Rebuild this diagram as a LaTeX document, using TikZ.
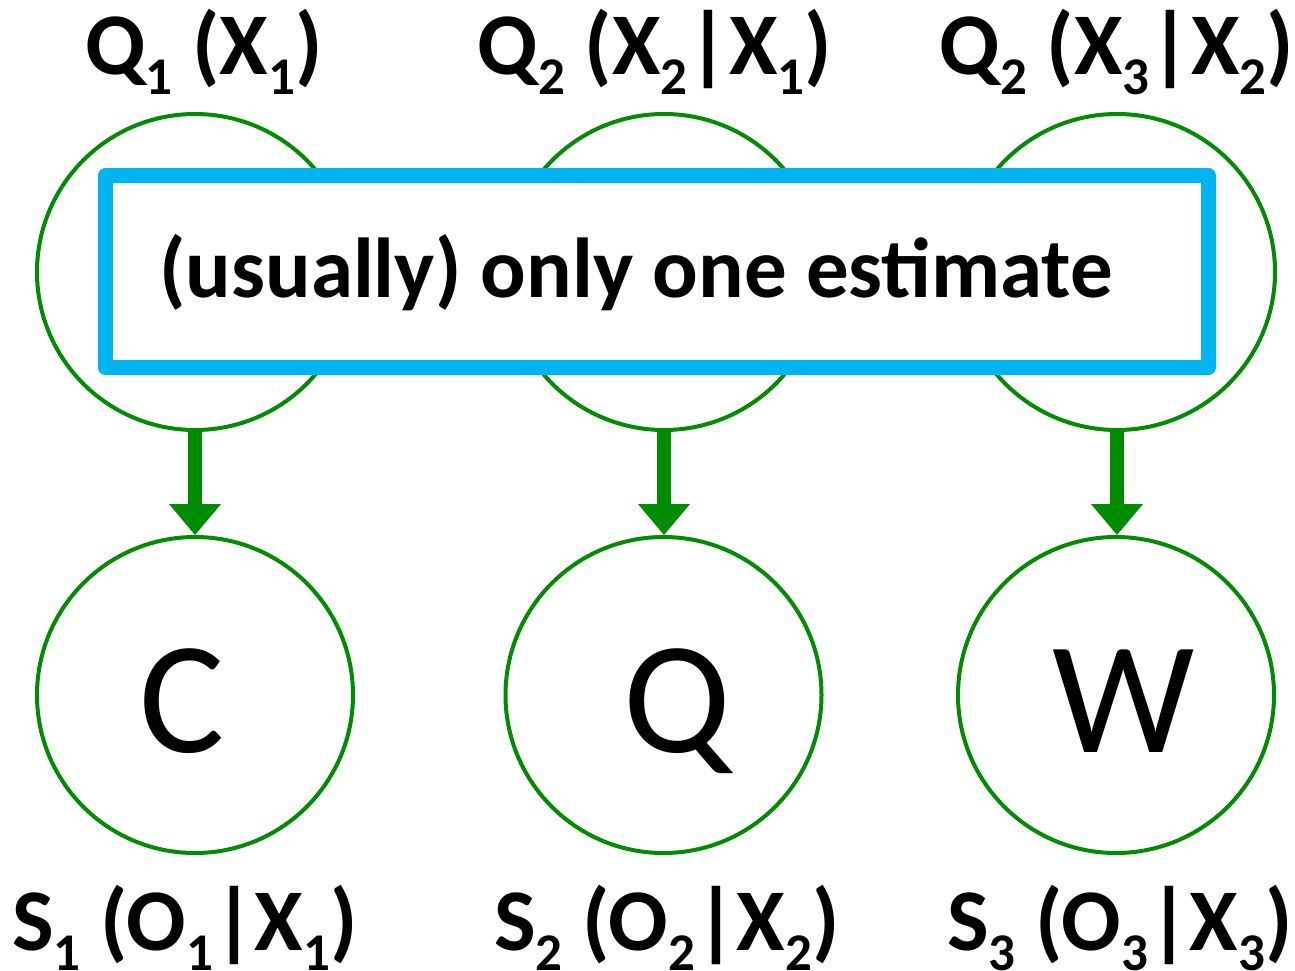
\documentclass[tikz,border=0pt]{standalone}
\usepackage{fontspec}
\setmainfont{Carlito}
\usetikzlibrary{arrows.meta}
\definecolor{gr}{RGB}{0,140,0}
\definecolor{lblue}{RGB}{0,180,240}
\newcommand{\sbx}[1]{\raisebox{-20pt}{\fontsize{53}{53}\selectfont #1}}
\tikzset{
  state/.style={circle, draw=gr, line width=4pt, fill=white, minimum size=316pt, inner sep=0pt},
  letter/.style={anchor=base, inner sep=0pt, font=\fontsize{160}{160}\selectfont},
  lbl/.style={anchor=base, inner sep=0pt, font=\bfseries\fontsize{88}{88}\selectfont},
  arr/.style={draw=gr, line width=14pt, -{Triangle[width=52pt,length=31pt,line width=0pt]}},
  estbox/.style={draw=lblue, line width=15pt, line join=round, fill=white, minimum width=1102.5pt, minimum height=192pt, inner sep=0pt},
  midtxt/.style={anchor=base, inner sep=0pt, font=\bfseries\fontsize{85}{85}\selectfont}
}
\begin{document}
\begin{tikzpicture}[x=1pt,y=-1pt]
\useasboundingbox (0,0) rectangle (1295,970);
% top circles
\node[state] (t1) at (195,272) {};
\node[state] (t2) at (664,272) {};
\node[state] (t3) at (1117,272) {};
% bottom circles
\node[state] (b1) at (195,695) {};
\node[state] (b2) at (663.5,695) {};
\node[state] (b3) at (1116,695) {};
% letters
\node[letter] (lc) at (182,752) {C};
\node[letter] (lq) at (677,752) {Q};
\node[letter] (lw) at (1124,752) {W};
% box
\node[estbox] (box) at (656.75,271.5) {};
\node[midtxt] (est) at (636,297) {(usually) only one estimate};
% arrows
\draw[arr] (t1.south) -- (b1.north);
\draw[arr] (t2.south) -- (t2.south |- b2.north);
\draw[arr] (t3.south) -- (t3.south |- b3.north);
% labels
\node[lbl] (q1) at (204,74) {Q\sbx{1} (X\sbx{1})};
\node[lbl] (q2) at (655,74) {Q\sbx{2} (X\sbx{2}|X\sbx{1})};
\node[lbl] (q3) at (1117,74) {Q\sbx{2} (X\sbx{3}|X\sbx{2})};
\node[lbl] (s1) at (185,950) {S\sbx{1} (O\sbx{1}|X\sbx{1})};
\node[lbl] (s2) at (667,950) {S\sbx{2} (O\sbx{2}|X\sbx{2})};
\node[lbl] (s3) at (1120,950) {S\sbx{3} (O\sbx{3}|X\sbx{3})};
\end{tikzpicture}
\end{document}
